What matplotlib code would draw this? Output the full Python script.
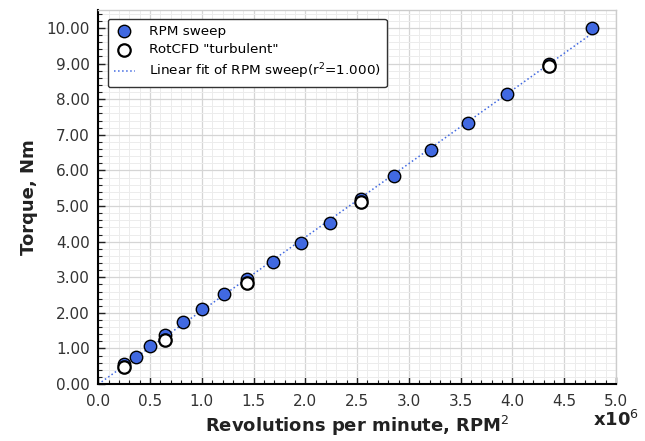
import numpy as np
import matplotlib
matplotlib.use("Agg")
import matplotlib.pyplot as plt
from matplotlib.ticker import MultipleLocator, FuncFormatter

# ---------------------------------------------------------------------------
# Data
# ---------------------------------------------------------------------------
rpm_sq_sweep = [0.252e6, 0.365e6, 0.501e6, 0.646e6, 0.814e6, 1.004e6, 1.214e6,
                1.440e6, 1.685e6, 1.956e6, 2.240e6, 2.534e6, 2.860e6, 3.211e6,
                3.566e6, 3.944e6, 4.350e6, 4.767e6]
torque_sweep = [0.56, 0.77, 1.06, 1.38, 1.73, 2.10, 2.52, 2.96, 3.43, 3.97,
                4.51, 5.20, 5.84, 6.57, 7.34, 8.15, 9.00, 9.99]

rpm_sq_cfd = [0.252e6, 0.646e6, 1.440e6, 2.534e6, 4.350e6]
torque_cfd = [0.49, 1.24, 2.83, 5.12, 8.93]

# ---------------------------------------------------------------------------
# Style
# ---------------------------------------------------------------------------
plt.rcParams.update({
    "font.family": "DejaVu Sans",
    "xtick.direction": "in",
    "ytick.direction": "in",
    "xtick.color": "#222222",
    "ytick.color": "#222222",
    "xtick.labelcolor": "#333333",
    "ytick.labelcolor": "#333333",
    "xtick.labelsize": 11,
    "ytick.labelsize": 11,
})

# linear fit of sweep
x = np.array(rpm_sq_sweep)
y = np.array(torque_sweep)
slope, intercept = np.polyfit(x, y, 1)
pred = slope * x + intercept
r2 = 1 - np.sum((y - pred) ** 2) / np.sum((y - y.mean()) ** 2)
x_fit = np.array([0.0, x.max()])

fig = plt.figure(figsize=(6.45, 4.41), dpi=100)
ax = fig.add_axes([0.1524, 0.129, 0.8026, 0.848])

ax.grid(which="major", color="#d5d5d5", linewidth=0.9, zorder=0)
ax.grid(which="minor", color="#ececec", linewidth=0.7, zorder=0)
ax.set_axisbelow(True)

ax.scatter(rpm_sq_sweep, torque_sweep, s=80, color="#4169e1",
           edgecolor="black", linewidth=1.0, zorder=3, label="RPM sweep")
ax.scatter(rpm_sq_cfd, torque_cfd, s=80, color="white",
           edgecolor="black", linewidth=1.6, zorder=4,
           label='RotCFD "turbulent"')
ax.plot(x_fit, slope * x_fit + intercept, linestyle=":", color="#4169e1",
        linewidth=1.1, zorder=2,
        label=f"Linear fit of RPM sweep(r$^2$={r2:.3f})")

ax.set_xlim(0, 5.0e6)
ax.set_ylim(0, 10.5)
ax.xaxis.set_major_locator(MultipleLocator(0.5e6))
ax.xaxis.set_minor_locator(MultipleLocator(0.1e6))
ax.yaxis.set_major_locator(MultipleLocator(1.0))
ax.yaxis.set_minor_locator(MultipleLocator(0.2))
ax.xaxis.set_major_formatter(FuncFormatter(lambda v, p: f"{v / 1e6:.1f}"))
ax.yaxis.set_major_formatter(FuncFormatter(lambda v, p: f"{v:.2f}"))
ax.tick_params(which="major", length=5, width=1.0)
ax.tick_params(which="minor", length=3, width=0.8)
ax.tick_params(axis="x", pad=7)
ax.tick_params(axis="y", pad=6)

for side in ["left", "bottom"]:
    ax.spines[side].set_linewidth(1.5)
    ax.spines[side].set_color("black")
for side in ["top", "right"]:
    ax.spines[side].set_linewidth(1.0)
    ax.spines[side].set_color("#cccccc")

ax.set_xlabel(r"Revolutions per minute, RPM$^2$", fontsize=13,
              fontweight="bold", color="#222222", labelpad=4)
ax.set_ylabel("Torque, Nm", fontsize=13, fontweight="bold",
              color="#222222", labelpad=6)
fig.text(0.955, 0.034, r"x10$^6$", fontsize=13, fontweight="bold",
         color="#222222", ha="center", va="baseline")

leg = ax.legend(loc="upper left", fontsize=9.7, frameon=True, fancybox=True,
                borderpad=0.45, handlelength=1.6, handletextpad=1.0,
                labelspacing=0.4, bbox_to_anchor=(0.005, 0.995))
leg.get_frame().set_edgecolor("#333333")
leg.get_frame().set_linewidth(1.0)
leg.get_frame().set_alpha(1.0)

fig.savefig("out.png", dpi=100)
